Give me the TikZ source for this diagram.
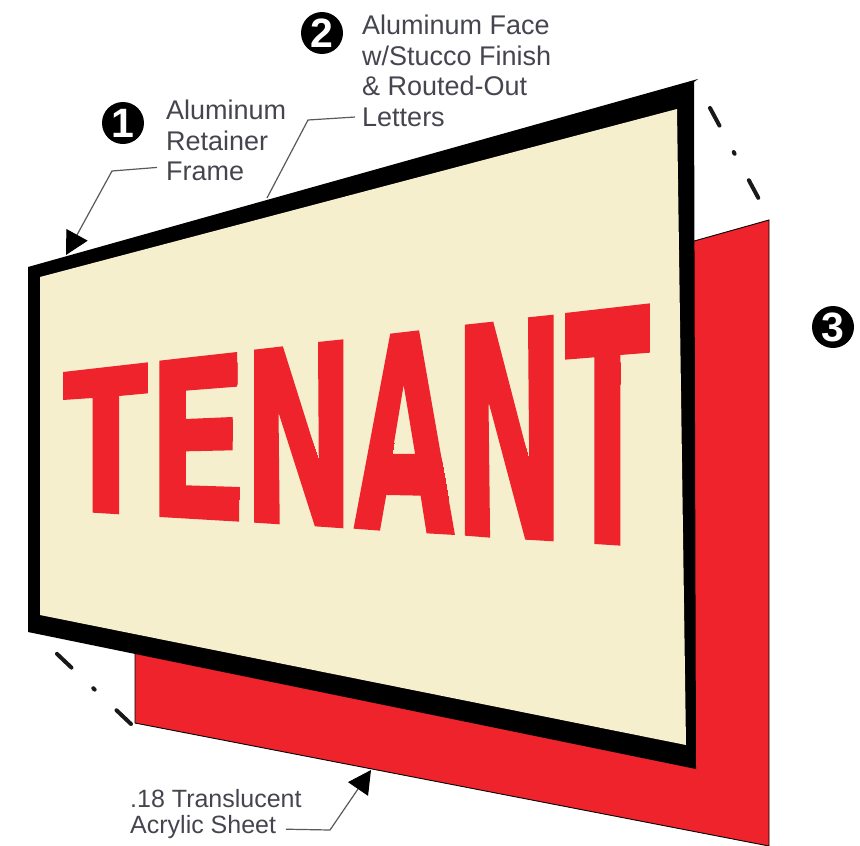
\documentclass[tikz,border=0pt]{standalone}
\usepackage{fontspec}
\setmainfont{Liberation Sans}
\usepackage{xcolor}
\usetikzlibrary{arrows.meta}
\definecolor{signred}{HTML}{EE232B}
\definecolor{facecream}{HTML}{F6EFCD}
\definecolor{labelgray}{HTML}{45454F}

% outlines of the warped letters
\newcommand{\tenantoutline}{
  (33,246)--(248,217)--(248,310)--(175,318)--(175,673)--(108,668)--(108,324)--(33,330)--cycle
  (277,212)--(474,186)--(474,290)--(344,302)--(344,387)--(463,381)--(463,481)--(344,484)--(344,586)--(479,591)--(479,695)--(277,681)--cycle
  (517,179)--(590,169)--(681,512)--(679,156)--(743,148)--(743,715)--(671,709)--(579,368)--(582,703)--(517,698)--cycle
  (862,131)--(935,121)--(1026,735)--(954,730)--(939,617)--(852,615)--(836,722)--(769,716)--cycle
  (896,285)--(925,492)--(867,492)--cycle
  (1051,104)--(1123,95)--(1214,510)--(1211,82)--(1276,74)--(1276,754)--(1204,749)--(1111,335)--(1115,743)--(1051,737)--cycle
  (1305,69)--(1520,40)--(1520,188)--(1445,195)--(1445,767)--(1379,762)--(1379,202)--(1305,209)--cycle
}

\begin{document}
\begin{tikzpicture}[
    x=1pt,y=-1pt,
    lettergrid/.style={shift={(50,290)},x=0.3947pt,y=-0.3333pt},
    sheet/.style={draw=black,line width=0.9pt,fill=signred},
    badge/.style={circle,fill=black,text=white,font=\fontsize{41}{41}\selectfont\bfseries,
                  minimum size=42pt,inner sep=0pt},
    callout/.style={align=left,text=labelgray,inner sep=0pt,anchor=north west,
                    font=\fontsize{27}{30.6}\selectfont},
    wordmark/.style={text=signred,font=\fontsize{200}{200}\selectfont\bfseries,
                     inner sep=0pt,xscale=0.73,transform shape},
    leader/.style={draw=black!65,line width=1.2pt},
    tip/.style={-{Stealth[length=23pt,width=24pt,inset=0pt,black]}},
    axisline/.style={draw=black!90,line width=4pt,line cap=round,
                     dash pattern=on 20pt off 30pt on 2pt off 30pt}
]
  \useasboundingbox (0,0) rectangle (860,846);

  % Acrylic sheet behind the frame.
  \draw[sheet] (135,640)--(135,723)--(769,846)--(769,220)--(680,245)--cycle;

  % Retainer frame and stucco face.
  \fill[black] (28,267)--(698,79)--(694,82)--(696,769)--(28,632)--cycle;
  \fill[facecream] (40,277)--(677,109)--(686,745)--(40,615)--cycle;

  % Routed-out letters; the word is kept inside their outlines.
  \begin{scope}[even odd rule,lettergrid]
    \fill[signred] \tenantoutline;
    \clip \tenantoutline;
    \node[wordmark] (tenant) at (775,426) {TENANT};
  \end{scope}

  % Centre lines past the corners.
  \coordinate (uppera) at (710,108);
  \coordinate (upperb) at (760,201);
  \coordinate (lowera) at (131,724);
  \coordinate (lowerb) at (55,652);
  \draw[axisline] (uppera)--(upperb);
  \draw[axisline] (lowera)--(lowerb);

  % Numbered labels.
  \node[badge] (one) at (123,123) {1};
  \node[badge] (two) at (322,33) {2};
  \node[badge] (three) at (833,327) {3};

  \node[callout] (retainer) at (166,100) {Aluminum\\Retainer\\Frame};
  \node[callout] (face) at (362,15) {Aluminum Face\\w/Stucco Finish\\\&~Routed-Out\\Letters};
  \node[callout,font=\fontsize{25}{26.5}\selectfont] (acrylic) at (130,789)
    {.18 Translucent\\Acrylic Sheet};

  % Leaders from the text to the parts.
  \coordinate (retainerbend) at (112,171);
  \coordinate (retainertip) at (66,255);
  \coordinate (facebend) at (308,120);
  \coordinate (faceend) at (267,198);
  \coordinate (acrylicbend) at (330,830);
  \coordinate (acrylictip) at (371,770);
  \draw[leader,tip] ([shift={(-9pt,14pt)}]retainer.south west)--(retainerbend)--(retainertip);
  \draw[leader] ([shift={(-7pt,10pt)}]face.south west)--(facebend)--(faceend);
  \draw[leader,tip] ([shift={(-16pt,10pt)}]acrylic.south east)--(acrylicbend)--(acrylictip);
\end{tikzpicture}
\end{document}
